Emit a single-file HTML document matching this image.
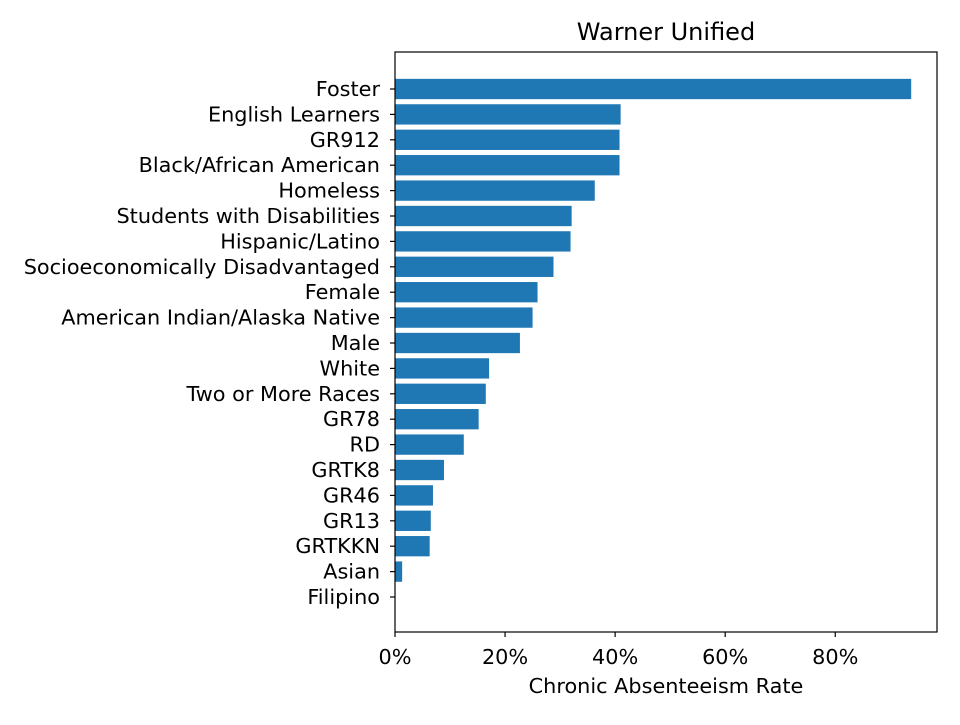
<!DOCTYPE html>
<html><head><meta charset="utf-8"><style>
body{margin:0;background:#fff}
svg text{font-family:"DejaVu Sans","Liberation Sans",sans-serif;fill:#000}
</style></head><body>
<svg id="chart" width="960" height="720"></svg>
<script>
const categories=["Foster","English Learners","GR912","Black/African American","Homeless","Students with Disabilities","Hispanic/Latino","Socioeconomically Disadvantaged","Female","American Indian/Alaska Native","Male","White","Two or More Races","GR78","RD","GRTK8","GR46","GR13","GRTKKN","Asian","Filipino"];
const values=[93.8,41.0,40.8,40.8,36.3,32.1,31.9,28.8,25.9,25.0,22.7,17.1,16.5,15.2,12.5,8.9,6.9,6.5,6.3,1.3,0];
const xTicks=[0,20,40,60,80];
const xTickLabels=["0%","20%","40%","60%","80%"];
const NS="http://www.w3.org/2000/svg";
const svg=document.getElementById('chart');
const L=395,R=937,T=52,B=632;
const xMax=Math.max(...values)*1.05;
const x=v=>L+(v/xMax)*(R-L);
const n=categories.length;
const y0=89,step=(597-89)/(n-1);
const y=i=>y0+i*step;
function mk(t,a,txt){const e=document.createElementNS(NS,t);for(const k in a)e.setAttribute(k,a[k]);if(txt!==undefined)e.textContent=txt;svg.appendChild(e);return e;}
categories.forEach((c,i)=>{
  const r=mk('rect',{x:L,y:y(i)-step*0.4,width:x(values[i])-L,height:step*0.8,fill:'#1f77b4'});
  
  
  const tk=mk('line',{x1:L-5,x2:L,y1:y(i),y2:y(i),stroke:'#000','stroke-width':1.2});
  
  
  const t=mk('text',{x:L-15,y:y(i)+7,'text-anchor':'end','font-size':20.8},c);
  
  
});
xTicks.forEach((v,i)=>{
  const tk=mk('line',{x1:x(v),x2:x(v),y1:B,y2:B+5,stroke:'#000','stroke-width':1.2});
  
  
  const t=mk('text',{x:x(v),y:B+32,'text-anchor':'middle','font-size':20.8},xTickLabels[i]);
  
  
});
const fr=mk('rect',{x:L,y:T,width:R-L,height:B-T,fill:'none',stroke:'#000','stroke-width':1.2});


const tt=mk('text',{x:(L+R)/2,y:40,'text-anchor':'middle','font-size':24},'Warner Unified');


const xl=mk('text',{x:(L+R)/2,y:693,'text-anchor':'middle','font-size':20.8},'Chronic Absenteeism Rate');


</script>
</body></html>
